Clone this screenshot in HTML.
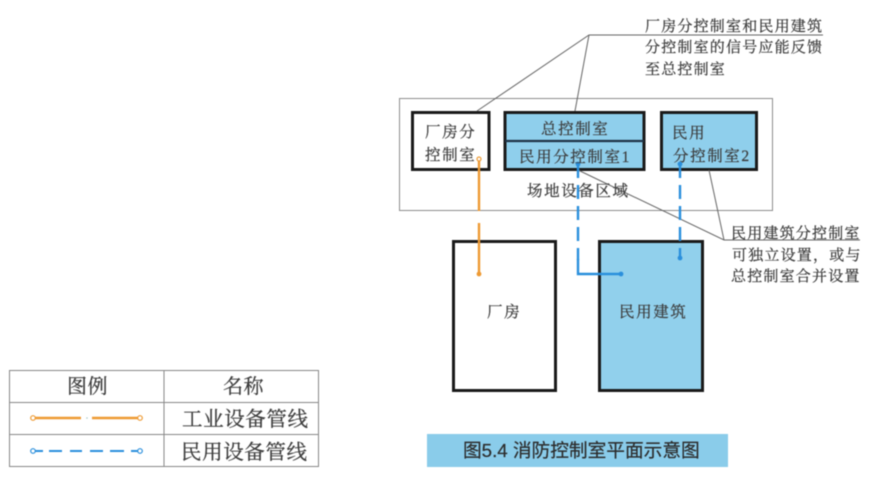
<!DOCTYPE html>
<html>
<head>
<meta charset="utf-8">
<style>
html,body{margin:0;padding:0;background:#fff;width:870px;height:484px;overflow:hidden}
svg{display:block;filter:blur(0.5px)}
.s{font-family:"Liberation Serif","Noto Serif CJK SC",serif;fill:#3c3c3c;stroke:#3c3c3c;stroke-width:0.25px}
.l{font-size:15px;letter-spacing:1.2px}
.b{font-size:15.5px;letter-spacing:1.6px}
.g{font-family:"Liberation Sans","Noto Sans CJK SC",sans-serif;fill:#2c2c2c;stroke:#2c2c2c;stroke-width:0.2px}
</style>
</head>
<body>
<svg width="870" height="484" viewBox="0 0 870 484" xmlns="http://www.w3.org/2000/svg">
<rect x="399.5" y="98.5" width="373" height="112" fill="#fff" stroke="#8c8c8c" stroke-width="1"/>

<rect x="412.5" y="112.5" width="76.5" height="57" fill="#fff" stroke="#1a1a1a" stroke-width="3"/>
<rect x="505" y="112.5" width="139" height="57" fill="#8fcfec" stroke="#1a1a1a" stroke-width="3"/>
<line x1="505" y1="141" x2="644" y2="141" stroke="#1f3347" stroke-width="2.2"/>
<rect x="661.5" y="112.5" width="95" height="57" fill="#8fcfec" stroke="#1a1a1a" stroke-width="3"/>

<rect x="453.5" y="241.5" width="102" height="149" fill="#fff" stroke="#1a1a1a" stroke-width="3"/>
<rect x="599.5" y="241.5" width="103" height="149" fill="#91d0ec" stroke="#1a1a1a" stroke-width="3"/>

<g fill="none" stroke="#666" stroke-width="1">
<polyline points="477,111 589,35 823,35"/>
<line x1="589" y1="35" x2="575" y2="111"/>
<polyline points="578,170 724,240 860,240"/>
<line x1="709" y1="170" x2="724" y2="240"/>
</g>

<g fill="none" stroke="#ee9a33" stroke-width="2.4">
<line x1="479" y1="160" x2="479" y2="211"/>
<line x1="479" y1="223" x2="479" y2="273"/>
</g>
<circle cx="479" cy="159" r="2" fill="#fff" stroke="#ee9a33" stroke-width="1.2"/>
<circle cx="479" cy="274" r="2.4" fill="#ee9a33"/>

<g fill="none" stroke="#2a8fdc" stroke-width="2.4">
<line x1="578" y1="164" x2="578" y2="260" stroke-dasharray="14 7"/>
<polyline points="578,259 578,274 621,274"/>
<line x1="680" y1="164" x2="680" y2="257" stroke-dasharray="14 7"/>
</g>
<circle cx="578" cy="164" r="2.4" fill="#2a8fdc"/>
<circle cx="680" cy="164" r="2.4" fill="#2a8fdc"/>
<circle cx="621" cy="274" r="2.4" fill="#2a8fdc"/>
<circle cx="680" cy="258" r="2.4" fill="#2a8fdc"/>

<g class="s">
<text class="l" x="645" y="31">厂房分控制室和民用建筑</text>
<text class="l" x="645" y="52">分控制室的信号应能反馈</text>
<text class="l" x="645" y="74">至总控制室</text>
<text class="b" x="425" y="137">厂房分</text>
<text class="b" x="425" y="160">控制室</text>
<text class="b" x="541" y="134">总控制室</text>
<text class="b" x="519" y="162">民用分控制室1</text>
<text class="b" x="672" y="138">民用</text>
<text class="b" x="673" y="161">分控制室2</text>
<text class="b" x="527" y="196">场地设备区域</text>
<text class="l" x="731" y="238">民用建筑分控制室</text>
<text class="l" x="732" y="260">可独立设置，或与</text>
<text class="l" x="731" y="281">总控制室合并设置</text>
<text class="b" x="487" y="317">厂房</text>
<text class="b" x="619" y="317">民用建筑</text>
</g>

<rect x="427" y="434" width="301" height="33" fill="#8accea"/>
<text class="g" x="463" y="457" font-size="18.7">图5.4 消防控制室平面示意图</text>

<g fill="none" stroke="#888" stroke-width="1">
<rect x="9.5" y="370.5" width="309" height="96"/>
<line x1="164" y1="370" x2="164" y2="466"/>
<line x1="9" y1="402.5" x2="319" y2="402.5"/>
<line x1="9" y1="434.5" x2="319" y2="434.5"/>
</g>
<g class="s" font-size="20">
<text x="67" y="393" letter-spacing="0.5">图例</text>
<text x="223" y="393" letter-spacing="0.5">名称</text>
<text x="182" y="426" font-size="20.5" letter-spacing="0.6">工业设备管线</text>
<text x="181" y="459" font-size="20.5" letter-spacing="0.6">民用设备管线</text>
</g>

<g fill="none" stroke="#ee9a33" stroke-width="2.4">
<line x1="35" y1="418" x2="81" y2="418"/>
<line x1="92" y1="418" x2="138" y2="418"/>
</g>
<circle cx="33" cy="418" r="2.3" fill="#fff" stroke="#ee9a33" stroke-width="1.2"/>
<circle cx="140" cy="418" r="2.3" fill="#fff" stroke="#ee9a33" stroke-width="1.2"/>
<circle cx="87" cy="418" r="0.8" fill="#a8c8c8"/>

<g stroke="#2a8fdc" stroke-width="2" fill="none">
<line x1="35" y1="451" x2="43" y2="451"/>
<line x1="49" y1="451" x2="62" y2="451"/>
<line x1="70" y1="451" x2="82" y2="451"/>
<line x1="90" y1="451" x2="103" y2="451"/>
<line x1="110" y1="451" x2="124" y2="451"/>
<line x1="131" y1="451" x2="138" y2="451"/>
</g>
<circle cx="33" cy="451" r="2.3" fill="#fff" stroke="#2a8fdc" stroke-width="1.2"/>
<circle cx="140" cy="451" r="2.3" fill="#fff" stroke="#2a8fdc" stroke-width="1.2"/>
</svg>
</body>
</html>
